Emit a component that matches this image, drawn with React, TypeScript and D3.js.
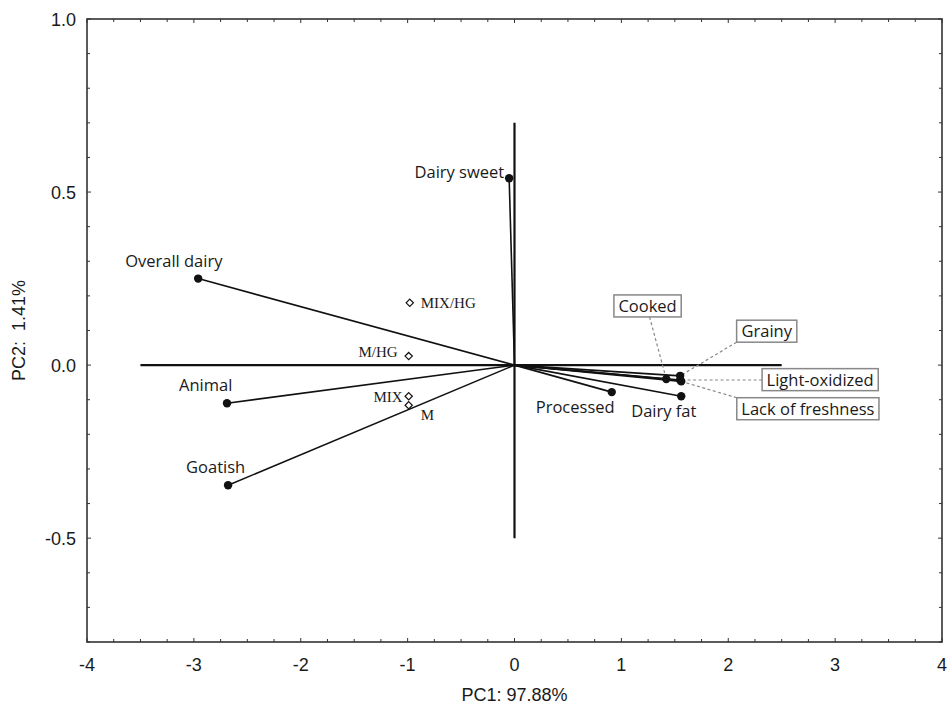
import React, { useEffect, useRef } from "react";
import * as d3 from "d3";

// ---- data ----
const variableNames = ["Dairy sweet", "Overall dairy", "Animal", "Goatish", "Processed", "Dairy fat", "Cooked", "Grainy", "Light-oxidized", "Lack of freshness"];
const variablePC1 = [-0.05, -2.96, -2.69, -2.68, 0.91, 1.56, 1.42, 1.55, 1.55, 1.56];
const variablePC2 = [0.54, 0.25, -0.11, -0.347, -0.078, -0.09, -0.04, -0.031, -0.043, -0.047];

const sampleNames = ["MIX/HG", "M/HG", "MIX", "M"];
const samplePC1 = [-0.98, -0.99, -0.99, -0.99];
const samplePC2 = [0.18, 0.026, -0.09, -0.116];

const xTicks = [-4, -3, -2, -1, 0, 1, 2, 3, 4];
const yTicks = [-0.5, 0.0, 0.5, 1.0];
const yTickLabels = ["-0.5", "0.0", "0.5", "1.0"];
const xTitle = "PC1: 97.88%";
const yTitle = "PC2:  1.41%";

// boxed labels (label anchor in chart units)
const boxedNames = ["Cooked", "Grainy", "Light-oxidized", "Lack of freshness"];
const boxedPC1 = [1.245, 2.36, 2.86, 2.745];
const boxedPC2 = [0.171, 0.098, -0.042, -0.126];

// ---- layout ----
const W = 949, H = 711;
const M = { left: 87, top: 19, right: 942, bottom: 642 };
const plainLabelOffset: Record<string, [number, number, string]> = {
  "Dairy sweet": [-5, 0, "end"],
  "Overall dairy": [-73, -12, "start"],
  "Animal": [-48, -12, "start"],
  "Goatish": [-42, -12, "start"],
  "Processed": [-76, 21, "start"],
  "Dairy fat": [-50, 21, "start"],
};
const sampleLabelOffset: Record<string, [number, number, string]> = {
  "MIX/HG": [11, 5, "start"],
  "M/HG": [-11, 1, "end"],
  "MIX": [-6, 6, "end"],
  "M": [12, 15, "start"],
};

export default function App() {
  const ref = useRef<SVGSVGElement>(null);
  useEffect(() => {
    const svg = d3.select(ref.current);
    svg.selectAll("*").remove();
    const x = d3.scaleLinear().domain([-4, 4]).range([M.left, M.right]);
    const y = d3.scaleLinear().domain([-0.8, 1.0]).range([M.bottom, M.top]);
    const ink = "#1a1a1a";
    const sans = "'Open Sans', sans-serif";
    const arial = "'Liberation Sans', Arial, sans-serif";

    svg.append("rect").attr("width", W).attr("height", H).attr("fill", "#fff");

    // minor/major ticks (inward) on all four sides
    const xMinor = d3.range(-4, 4.001, 0.25);
    const yMinor = d3.range(-0.8, 1.0001, 0.1);
    const tk = svg.append("g").attr("stroke", "#333").attr("stroke-width", 1);
    xMinor.forEach((v) => {
      const major = Math.abs(v - Math.round(v)) < 1e-6;
      const len = major ? 4 : 3;
      tk.append("line").attr("x1", x(v)).attr("x2", x(v)).attr("y1", M.bottom).attr("y2", M.bottom - len);
      tk.append("line").attr("x1", x(v)).attr("x2", x(v)).attr("y1", M.top).attr("y2", M.top + len);
    });
    yMinor.forEach((v) => {
      const major = Math.abs(v * 2 - Math.round(v * 2)) < 1e-6;
      const len = major ? 4 : 3;
      tk.append("line").attr("y1", y(v)).attr("y2", y(v)).attr("x1", M.left).attr("x2", M.left + len);
      tk.append("line").attr("y1", y(v)).attr("y2", y(v)).attr("x1", M.right).attr("x2", M.right - len);
    });

    // frame
    svg.append("rect")
      .attr("x", M.left).attr("y", M.top)
      .attr("width", M.right - M.left).attr("height", M.bottom - M.top)
      .attr("fill", "none").attr("stroke", "#333").attr("stroke-width", 1.6);

    // tick labels
    svg.append("g").selectAll("text").data(xTicks).join("text")
      .attr("x", (d) => x(d)).attr("y", 671)
      .attr("text-anchor", "middle").attr("font-family", arial).attr("font-size", 18).attr("fill", ink)
      .text((d) => String(d));
    svg.append("g").selectAll("text").data(yTicks).join("text")
      .attr("x", M.left - 11).attr("y", (d) => y(d)).attr("dy", "0.37em")
      .attr("text-anchor", "end").attr("font-family", arial).attr("font-size", 18).attr("fill", ink)
      .text((d, i) => yTickLabels[i]);

    // axis titles
    svg.append("text").attr("x", (M.left + M.right) / 2).attr("y", 701)
      .attr("text-anchor", "middle").attr("font-family", arial).attr("font-size", 18).attr("fill", ink)
      .style("white-space", "pre")
      .text(xTitle);
    svg.append("text").attr("transform", `translate(25,${(M.top + M.bottom) / 2}) rotate(-90)`)
      .attr("text-anchor", "middle").attr("font-family", arial).attr("font-size", 18).attr("fill", ink)
      .style("white-space", "pre")
      .text(yTitle);

    // origin axes
    svg.append("line").attr("x1", x(-3.5)).attr("x2", x(2.5)).attr("y1", y(0)).attr("y2", y(0))
      .attr("stroke", "#111").attr("stroke-width", 2.2);
    svg.append("line").attr("x1", x(0)).attr("x2", x(0)).attr("y1", y(0.7)).attr("y2", y(-0.5))
      .attr("stroke", "#111").attr("stroke-width", 2.2);

    // variable vectors
    const vars = variableNames.map((n, i) => ({ n, px: x(variablePC1[i]), py: y(variablePC2[i]) }));
    const vg = svg.append("g");
    vars.forEach((v) => {
      vg.append("line").attr("x1", x(0)).attr("y1", y(0)).attr("x2", v.px).attr("y2", v.py)
        .attr("stroke", "#111").attr("stroke-width", 1.6);
    });

    // leader lines + boxed labels
    const bg = svg.append("g");
    boxedNames.forEach((n, i) => {
      const v = vars.find((d) => d.n === n)!;
      const cx = x(boxedPC1[i]), cy = y(boxedPC2[i]);
      const t = bg.append("text").attr("x", cx).attr("y", cy).attr("dy", "0.36em")
        .attr("text-anchor", "middle").attr("font-family", sans).attr("font-size", 16.5).attr("fill", ink).text(n);
      const bb = (t.node() as SVGTextElement).getBBox();
      const bw = bb.width + 9, bh = 22;
      const rx = cx - bw / 2, ry = cy - bh / 2;
      const ex = Math.max(rx, Math.min(v.px, rx + bw));
      const ey = Math.max(ry, Math.min(v.py, ry + bh));
      let sx = ex, sy = ey;
      if (n === "Cooked") { sx = cx + 2; sy = ry + bh; }
      bg.insert("line", "text").attr("x1", sx).attr("y1", sy).attr("x2", v.px).attr("y2", v.py)
        .attr("stroke", "#888").attr("stroke-width", 1.2).attr("stroke-dasharray", "3,2.5");
      bg.insert("rect", "text").attr("x", rx).attr("y", ry).attr("width", bw).attr("height", bh)
        .attr("fill", "#fff").attr("stroke", "#888").attr("stroke-width", 1.5);
    });

    // dots
    svg.append("g").selectAll("circle").data(vars).join("circle")
      .attr("cx", (d) => d.px).attr("cy", (d) => d.py).attr("r", 4.2).attr("fill", "#111");

    // plain labels
    svg.append("g").selectAll("text").data(vars.filter((d) => plainLabelOffset[d.n])).join("text")
      .attr("x", (d) => d.px + plainLabelOffset[d.n][0])
      .attr("y", (d) => d.py + plainLabelOffset[d.n][1])
      .attr("text-anchor", (d) => plainLabelOffset[d.n][2])
      .attr("font-family", sans).attr("font-size", 16.5).attr("fill", ink)
      .text((d) => d.n);

    // samples
    const samp = sampleNames.map((n, i) => ({ n, px: x(samplePC1[i]), py: y(samplePC2[i]) }));
    const diamond = d3.symbol().type(d3.symbolDiamond2).size(34);
    svg.append("g").selectAll("path").data(samp).join("path")
      .attr("transform", (d) => `translate(${d.px},${d.py})`)
      .attr("d", diamond()!).attr("fill", "#fff").attr("stroke", "#111").attr("stroke-width", 1.2);
    svg.append("g").selectAll("text").data(samp).join("text")
      .attr("x", (d) => d.px + sampleLabelOffset[d.n][0])
      .attr("y", (d) => d.py + sampleLabelOffset[d.n][1])
      .attr("text-anchor", (d) => sampleLabelOffset[d.n][2])
      .attr("font-family", "'Liberation Serif', 'Times New Roman', serif").attr("font-size", 15).attr("fill", ink)
      .text((d) => d.n);
  }, []);
  return (
    <svg ref={ref} width={W} height={H} style={{ position: "absolute", left: 0, top: 0, display: "block" }} />
  );
}
